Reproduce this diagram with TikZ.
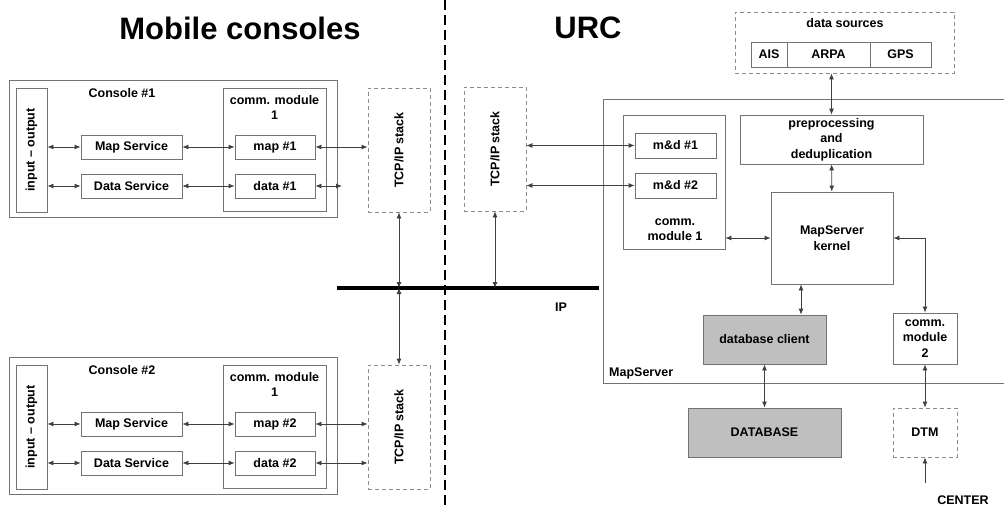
\documentclass[tikz,border=0pt]{standalone}
\usepackage{fontspec}
\setmainfont{Liberation Sans}
\usetikzlibrary{arrows.meta}
\colorlet{linec}{black!55}
\colorlet{arrc}{black!75}
\colorlet{fillc}{black!25}
\newcommand{\lblfont}{\bfseries\fontsize{12.5}{15.5}\selectfont}
\tikzstyle{lbl} = [font=\lblfont, inner sep=0pt, align=center]
\tikzstyle{box} = [lbl, draw=linec, line width=0.8pt]
\tikzstyle{gbox} = [box, fill=fillc]
\tikzstyle{dbox} = [lbl, draw=black!45, line width=0.8pt, dash pattern=on 4pt off 3pt]
\tikzstyle{arr} = [draw=arrc, line width=0.8pt, <->]

\begin{document}
\begin{tikzpicture}[x=1pt, y=-1pt, >={Latex[length=6pt,width=5pt]}]
      \useasboundingbox (0,0) rectangle (1004,508);

      % Titles and divider
      \node[font=\bfseries\fontsize{31}{31}\selectfont] (ttlm) at (240,28) {Mobile consoles};
      \node[font=\bfseries\fontsize{31}{31}\selectfont] (ttlu) at (588,28) {URC};
      \draw[line width=1.2pt, dash pattern=on 10pt off 5pt] (445,0) -- (445,508);

      % Consoles
      \foreach \i/\dy in {1/0,2/277}{
        \begin{scope}[yshift=-\dy]
          \node[box, minimum width=328, minimum height=137] (con\i) at (173,148.5) {};
          \node[lbl] at (122,93) {Console \#\i};
          \node[box, minimum width=31, minimum height=124] (io\i) at (31.5,150) {};
          \node[lbl, rotate=90] at (io\i) {input -- output};
          \node[box, minimum width=103, minimum height=123] (cm\i) at (274.5,149.5) {};
          \node[lbl] at (274.5,107.5) {comm. module\\1};
          \node[box, minimum width=101, minimum height=24] (ms\i) at (131.5,147) {Map Service};
          \node[box, minimum width=101, minimum height=24] (ds\i) at (131.5,186) {Data Service};
          \node[box, minimum width=80, minimum height=24] (map\i) at (275,147) {map \#\i};
          \node[box, minimum width=80, minimum height=24] (data\i) at (275,186) {data \#\i};
          \node[dbox, minimum width=62, minimum height=124] (tcp\i) at (399,150) {};
          \node[lbl, rotate=90] at (tcp\i) {TCP/IP stack};

          \draw[arr] (io\i.east |- ms\i) -- (ms\i);
          \draw[arr] (io\i.east |- ds\i) -- (ds\i);
          \draw[arr] (ms\i) -- (map\i);
          \draw[arr] (ds\i) -- (data\i);
          \draw[arr] (map\i) -- (map\i -| tcp\i.west);
        \end{scope}
      }
      \coordinate (stub) at (342,186);
      \draw[arr] (data1) -- (stub);
      \draw[arr] (data2) -- (data2 -| tcp2.west);

      % IP network
      \coordinate (busl) at (337,288);
      \coordinate (busr) at (599,288);
      \draw[line width=4pt] (busl) -- (busr);
      \node[lbl] (ip) at (561,307) {IP};
      \node[dbox, minimum width=62, minimum height=124] (utcp) at (495,149) {};
      \node[lbl, rotate=90] at (utcp) {TCP/IP stack};
      \draw[arr] (tcp1.south) -- (tcp1.south |- busl);
      \draw[arr] (tcp1.south |- busl) -- (tcp2.north);
      \draw[arr] (utcp.south) -- (utcp.south |- busl);

      % MapServer
      \node[box, minimum width=409, minimum height=284] (msrv) at (807.5,241) {};
      \node[lbl, anchor=west] at (609,373) {MapServer};
      \node[box, minimum width=102, minimum height=134] (ucm) at (674,182) {};
      \node[lbl] at (675,229.5) {comm.\\module 1};
      \node[box, minimum width=81, minimum height=25] (md1) at (675.5,145.5) {m\&d \#1};
      \node[box, minimum width=81, minimum height=25] (md2) at (675.5,185.5) {m\&d \#2};
      \node[box, minimum width=183, minimum height=49] (pre) at (831.5,139.5) {preprocessing\\and\\deduplication};
      \node[box, minimum width=122, minimum height=92] (kern) at (832,238) {MapServer\\kernel};
      \node[gbox, minimum width=123, minimum height=49] (dbc) at (764.5,339.5) {database client};
      \node[box, minimum width=64, minimum height=51] (ucm2) at (925,338.5) {comm.\\module\\2};

      % Data sources
      \node[dbox, minimum width=219, minimum height=61] (src) at (844.5,42.5) {};
      \node[lbl] at (845,23) {data sources};
      \node[box, minimum width=36, minimum height=25] (ais) at (769,54.5) {AIS};
      \node[box, minimum width=83, minimum height=25] (arpa) at (828.5,54.5) {ARPA};
      \node[box, minimum width=61, minimum height=25] (gps) at (900.5,54.5) {GPS};

      % Outside
      \node[gbox, minimum width=153, minimum height=49] (db) at (764.5,432.5) {DATABASE};
      \node[dbox, minimum width=64, minimum height=49] (dtm) at (925,432.5) {DTM};
      \node[lbl] (ctr) at (963,500) {CENTER};
      \coordinate (ctrin) at (925,483);

      % Links
      \draw[arr] (md1) -- (md1 -| utcp.east);
      \draw[arr] (md2) -- (md2 -| utcp.east);
      \draw[arr] (pre.north |- src.south) -- (pre.north);
      \draw[arr] (pre) -- (kern);
      \draw[arr] (ucm.east |- kern) -- (kern);
      \draw[arr] (kern) -| (ucm2);
      \draw[arr] ([xshift=-31pt]kern.south) -- ([xshift=-31pt]kern.south |- dbc.north);
      \draw[arr] (dbc) -- (db);
      \draw[arr] (ucm2) -- (dtm);
      \draw[arr, <-] (dtm) -- (ctrin);
    \end{tikzpicture}
\end{document}
